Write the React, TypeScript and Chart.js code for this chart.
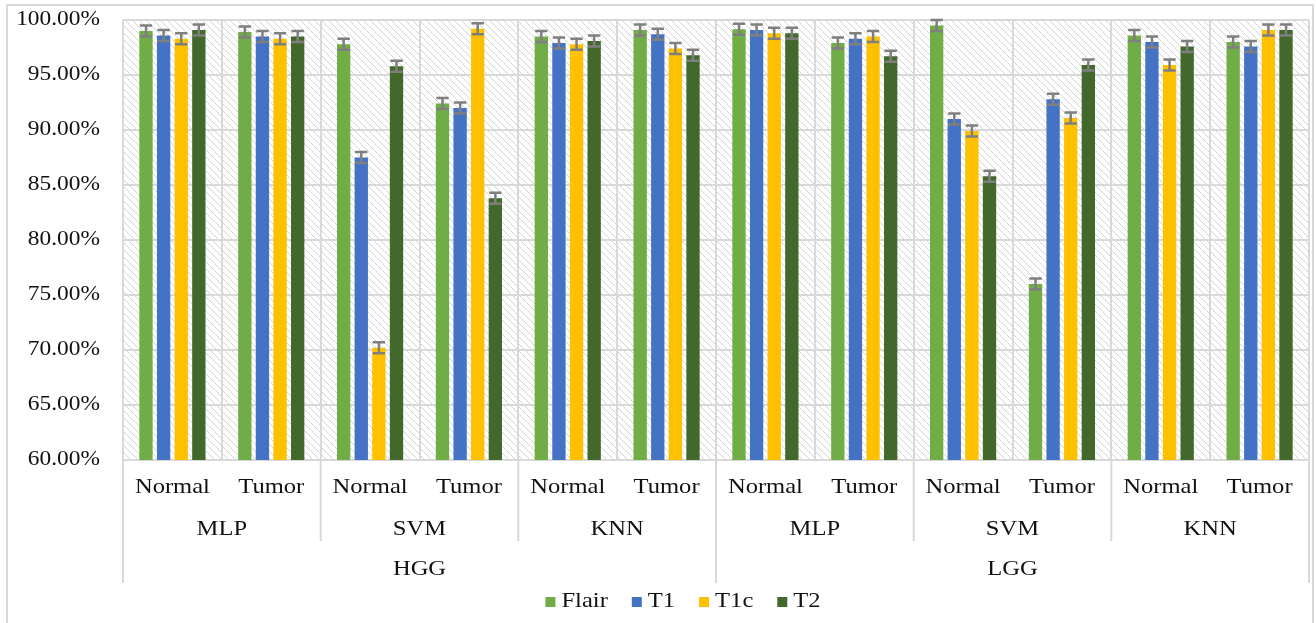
import React, { useEffect, useRef } from "react";
import { Chart, registerables } from "chart.js";

Chart.register(...registerables);

const categories = ["Normal", "Tumor", "Normal", "Tumor", "Normal", "Tumor", "Normal", "Tumor", "Normal", "Tumor", "Normal", "Tumor"];
const classifiers = ["MLP", "SVM", "KNN", "MLP", "SVM", "KNN"];
const gliomaTypes = ["HGG", "LGG"];
const seriesNames = ["Flair", "T1", "T1c", "T2"];
const seriesColors = ["#70AD47", "#4472C4", "#FFC000", "#43682B"];

const flair = [99.0, 98.9, 97.8, 92.4, 98.5, 99.1, 99.15, 97.9, 99.5, 76.0, 98.6, 98.0];
const t1 = [98.6, 98.5, 87.5, 92.0, 97.9, 98.7, 99.1, 98.3, 91.0, 92.8, 98.0, 97.6];
const t1c = [98.3, 98.3, 70.2, 99.2, 97.8, 97.4, 98.8, 98.5, 89.9, 91.1, 95.9, 99.1];
const t2 = [99.1, 98.5, 95.8, 83.8, 98.1, 96.8, 98.8, 96.7, 85.8, 95.9, 97.6, 99.1];
const errorMargin = 0.5;

const yMin = 60;
const yMax = 100;
const yStep = 5;

const FONT = "'Liberation Serif', 'Times New Roman', serif";
const TEXT = "#111111";
const GRID = "#d9d9d9";
const STRETCH = 1.17;

function makePattern(ctx: CanvasRenderingContext2D) {
  const c = document.createElement("canvas");
  c.width = 7;
  c.height = 7;
  const p = c.getContext("2d")!;
  p.fillStyle = "#ffffff";
  p.fillRect(0, 0, 7, 7);
  p.strokeStyle = "#d3d3d3";
  p.lineWidth = 1;
  p.beginPath();
  p.moveTo(-1, -1);
  p.lineTo(8, 8);
  p.stroke();
  return ctx.createPattern(c, "repeat");
}

function drawText(ctx: CanvasRenderingContext2D, text: string, x: number, y: number, align: CanvasTextAlign, size: number) {
  ctx.save();
  ctx.font = `${size}px ${FONT}`;
  ctx.fillStyle = TEXT;
  ctx.textAlign = align;
  ctx.textBaseline = "middle";
  ctx.translate(x, y);
  ctx.scale(STRETCH, 1);
  ctx.fillText(text, 0, 0);
  ctx.restore();
}

function textWidth(ctx: CanvasRenderingContext2D, text: string, size: number) {
  ctx.save();
  ctx.font = `${size}px ${FONT}`;
  const w = ctx.measureText(text).width * STRETCH;
  ctx.restore();
  return w;
}

export default function App() {
  const ref = useRef<HTMLCanvasElement | null>(null);

  useEffect(() => {
    const canvas = ref.current!;
    const allSeries = [flair, t1, t1c, t2];

    const hatchPlugin = {
      id: "hatch",
      beforeDraw(chart: any) {
        const { ctx, chartArea } = chart;
        ctx.save();
        ctx.fillStyle = "#ffffff";
        ctx.fillRect(0, 0, chart.width, chart.height);
        const pat = makePattern(ctx);
        if (pat) ctx.fillStyle = pat;
        ctx.fillRect(chartArea.left, chartArea.top, chartArea.right - chartArea.left, chartArea.bottom - chartArea.top);
        ctx.restore();
      },
    };

    const errorPlugin = {
      id: "errbars",
      afterDatasetsDraw(chart: any) {
        const { ctx } = chart;
        const yScale = chart.scales.y;
        ctx.save();
        ctx.strokeStyle = "#7f7f7f";
        ctx.lineWidth = 2.5;
        chart.data.datasets.forEach((ds: any, i: number) => {
          const meta = chart.getDatasetMeta(i);
          meta.data.forEach((el: any, j: number) => {
            const v = ds.data[j];
            const yTop = yScale.getPixelForValue(v + errorMargin);
            const yBot = yScale.getPixelForValue(v - errorMargin);
            const half = el.width / 2 - 0.5;
            ctx.beginPath();
            ctx.moveTo(el.x, yTop);
            ctx.lineTo(el.x, yBot);
            ctx.moveTo(el.x - half, yTop);
            ctx.lineTo(el.x + half, yTop);
            ctx.moveTo(el.x - half, yBot);
            ctx.lineTo(el.x + half, yBot);
            ctx.stroke();
          });
        });
        ctx.restore();
      },
    };

    const labelsPlugin = {
      id: "groupLabels",
      afterDraw(chart: any) {
        const { ctx, chartArea } = chart;
        const xScale = chart.scales.x;
        const yScale = chart.scales.y;
        const n = categories.length;
        const cw = (chartArea.right - chartArea.left) / n;
        const bottom = chartArea.bottom;
        ctx.save();
        // y tick labels
        yScale.ticks.forEach((t: any) => {
          const y = yScale.getPixelForValue(t.value);
          drawText(ctx, Number(t.value).toFixed(2) + "%", chartArea.left - 23, y, "right", 20);
        });
        // category labels
        categories.forEach((c, j) => {
          drawText(ctx, c, xScale.getPixelForValue(j), bottom + 27, "center", 21);
        });
        // separators
        ctx.strokeStyle = GRID;
        ctx.lineWidth = 2;
        for (let k = 0; k <= classifiers.length; k++) {
          const x = chartArea.left + k * 2 * cw;
          const isOuter = k % 3 === 0;
          ctx.beginPath();
          ctx.moveTo(x, bottom);
          ctx.lineTo(x, isOuter ? bottom + 123 : bottom + 81);
          ctx.stroke();
        }
        classifiers.forEach((c, k) => {
          const x = chartArea.left + (k * 2 + 1) * cw;
          drawText(ctx, c, x, bottom + 69, "center", 21);
        });
        gliomaTypes.forEach((g, k) => {
          const x = chartArea.left + (k * 6 + 3) * cw;
          drawText(ctx, g, x, bottom + 109, "center", 21);
        });
        // legend
        const box = 10;
        const gap = 6;
        const spacing = 24;
        const widths = seriesNames.map((s) => box + gap + textWidth(ctx, s, 21));
        const total = widths.reduce((a, b) => a + b, 0) + spacing * (seriesNames.length - 1);
        let lx = 683 - total / 2;
        const ly = 601;
        seriesNames.forEach((s, i) => {
          ctx.fillStyle = seriesColors[i];
          ctx.fillRect(lx, ly - box / 2 + 1, box, box);
          drawText(ctx, s, lx + box + gap, ly, "left", 21);
          lx += widths[i] + spacing;
        });
        // frame
        ctx.strokeStyle = GRID;
        ctx.lineWidth = 2;
        ctx.strokeRect(7, 5, chart.width - 10, chart.height + 10);
        ctx.restore();
      },
    };

    const chart = new Chart(canvas, {
      type: "bar",
      data: {
        labels: categories,
        datasets: seriesNames.map((name, i) => ({
          label: name,
          data: allSeries[i],
          backgroundColor: seriesColors[i],
          borderWidth: 0,
          categoryPercentage: 0.713,
          barPercentage: 0.756,
        })),
      },
      options: {
        animation: false,
        responsive: false,
        devicePixelRatio: 1,
        layout: { padding: { top: 20, left: 0, right: 7, bottom: 0 } },
        plugins: {
          legend: { display: false },
          tooltip: { enabled: false },
        },
        scales: {
          x: {
            offset: true,
            grid: { color: GRID, lineWidth: 2, drawTicks: false, offset: true },
            border: { display: true, color: GRID, width: 2 },
            ticks: { display: false },
            afterFit(scale: any) {
              scale.height = 163;
            },
          },
          y: {
            min: yMin,
            max: yMax,
            grid: { color: GRID, lineWidth: 2, drawTicks: false },
            border: { display: false },
            ticks: { display: false, stepSize: yStep },
            afterFit(scale: any) {
              scale.width = 123;
            },
          },
        },
      },
      plugins: [hatchPlugin, errorPlugin, labelsPlugin],
    });
    return () => chart.destroy();
  }, []);

  return (
    <div style={{ position: "fixed", left: 0, top: 0, width: 1316, height: 623, background: "#fff" }}>
      <canvas ref={ref} width={1316} height={623} style={{ width: 1316, height: 623, display: "block" }} />
    </div>
  );
}
